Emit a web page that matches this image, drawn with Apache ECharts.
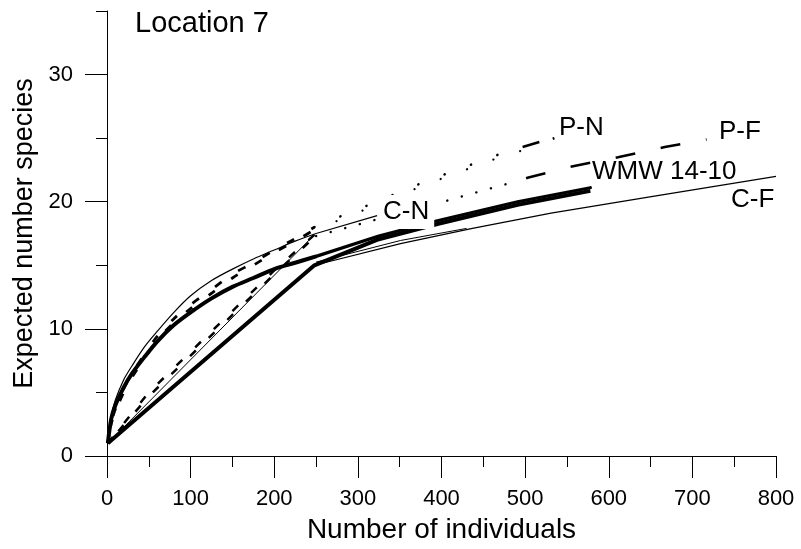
<!DOCTYPE html>
<html><head><meta charset="utf-8">
<script src="https://cdn.jsdelivr.net/npm/echarts@6/dist/echarts.min.js"></script>
<style>html,body{margin:0;padding:0;background:#fff}#c{width:801px;height:549px}</style>
</head><body><div id="c"></div>
<script>
// Tick values
const yMajorTicks = [0,10,20,30];
const yMinorTicks = [5,15,25,35];

// Curves: [number of individuals, expected number of species]
const cnCurve  = [[1,1],[5,3.1],[10,4.4],[20,6.0],[30,7.1],[45,8.6],[60,9.8],[80,11.3],[100,12.6],[125,13.8],[150,14.7],[175,15.5],[200,16.2],[225,16.9],[250,17.5]];
const cnTail   = [[250,17.5],[323,18.9]];
const cnLine   = [[1,1],[248,17.4]];
const pnCurve  = [[1,1],[5,2.6],[10,3.7],[20,5.3],[30,6.5],[45,8.0],[60,9.4],[80,10.8],[100,11.9],[125,13.1],[150,14.3],[175,15.2],[200,16.2],[225,17.1],[248,18.0]];
const pfCurve  = [[1,1],[5,2.5],[10,3.5],[20,5.0],[30,6.2],[45,7.7],[60,9.1],[80,10.5],[100,11.6],[125,12.8],[150,14.0],[175,15.0],[200,16.0],[225,16.9],[248,17.8]];
const pnLine   = [[1,1],[50,5.0],[100,8.2],[150,11.4],[200,14.6],[248,17.4]];
const pfLine   = [[1,1],[50,4.7],[100,7.9],[150,11.1],[200,14.3],[248,17.2]];
const wmwCurve = [[1,1],[5,2.9],[10,4.0],[20,5.4],[30,6.5],[45,7.8],[60,9.0],[80,10.3],[100,11.3],[125,12.4],[150,13.3],[175,14.0],[200,14.7],[225,15.2],[250,15.7]];
const wmwTail  = [[250,15.7],[325,17.3],[395,18.5],[491,20.0],[578,21.1]];
const wmwLine  = [[1,1],[248,15.0],[325,17.05],[395,18.25],[491,19.75],[578,20.85]];
const cfLine   = [[1,1],[248,15.0],[351,16.7],[437,17.9],[531,19.1],[651,20.4],[800,22.0]];
const cfLine2  = [[250,15.25],[351,16.95],[430,17.9]];
const pnTailDot  = [[248,18.0],[281,18.9],[315,19.8],[348,20.7],[381,21.6],[414,22.4],[447,23.2],[480,24.0],[497,24.3]];
const pnTailDot2 = [[250,17.8],[281,18.65],[315,19.55],[348,20.45],[381,21.35],[414,22.15],[447,22.95],[480,23.75],[495,24.0]];
const pnTailDash = [[497,24.3],[517,24.7]];
const pnTailEnd  = [[533,24.95],[535,25.0]];
const pfTailDot  = [[250,17.3],[300,18.2],[350,19.1],[402,20.0],[456,21.0],[492,21.65]];
const pfTailDash = [[492,21.65],[504,21.9],[551,22.7],[611,23.5],[667,24.3],[717,24.9]];

// Labels
const curveLabels = ['C-N','P-N','P-F','WMW 14-10','C-F'];
const panelTitle = 'Location 7';
const xTitle = 'Number of individuals';
const yTitle = 'Expected number species';

const FONT = '"Liberation Sans", Arial, sans-serif';
function ln(data, width, type, opts) {
  return Object.assign({
    type: 'line', data: data, showSymbol: false, symbol: 'none', silent: true,
    lineStyle: { color: '#000', width: width, type: type || 'solid', cap: 'butt' },
    animation: false
  }, opts || {});
}
function dots(data, width, gap, offset) {
  return ln(data, width, 'solid', { lineStyle: { color: '#000', width: width, type: [0.1, gap], dashOffset: offset || 0, cap: 'round' } });
}
const sm = { smooth: 0.3 };

const chart = echarts.init(document.getElementById('c'), null, { renderer: 'canvas' });
chart.setOption({
  backgroundColor: '#fff',
  animation: false,
  grid: { left: 107, right: 25, top: 11, bottom: 91, containLabel: false },
  xAxis: {
    type: 'value', min: 0, max: 800, interval: 100,
    axisLine: { show: true, lineStyle: { color: '#000', width: 1 } },
    axisTick: { show: true, length: 22, lineStyle: { color: '#000', width: 1 } },
    minorTick: { show: true, splitNumber: 2, length: 11, lineStyle: { color: '#000', width: 1 } },
    axisLabel: { margin: 32, fontSize: 22, color: '#000', fontFamily: FONT },
    splitLine: { show: false }, minorSplitLine: { show: false },
    name: xTitle, nameLocation: 'middle', nameGap: 60,
    nameTextStyle: { fontSize: 28, color: '#000', fontFamily: FONT }
  },
  yAxis: [{
    type: 'value', min: 0, max: 35, interval: 10,
    axisLine: { show: true, lineStyle: { color: '#000', width: 1 } },
    axisTick: { show: true, length: 22, customValues: yMajorTicks, lineStyle: { color: '#000', width: 1 } },
    axisLabel: { customValues: yMajorTicks, margin: 34, fontSize: 22, color: '#000', fontFamily: FONT },
    splitLine: { show: false },
    name: yTitle, nameLocation: 'middle', nameGap: 68,
    nameTextStyle: { fontSize: 27, color: '#000', fontFamily: FONT }
  }, {
    type: 'value', min: 0, max: 35, position: 'left', offset: 0,
    axisLine: { show: false },
    axisTick: { show: true, length: 11, customValues: yMinorTicks, lineStyle: { color: '#000', width: 1 } },
    axisLabel: { show: false }, splitLine: { show: false }
  }],
  series: [
    ln(cfLine, 1.2),
    ln(cfLine2, 1),
    ln(cnLine, 1),
    ln(cnCurve, 1.2, 'solid', sm),
    ln(cnTail, 1.2),
    ln(wmwLine, 4),
    ln(wmwCurve, 4, 'solid', sm),
    ln(wmwTail, 3.2, 'solid', { lineStyle: { color: '#000', width: 3.2, cap: 'round' } }),
    ln(pnCurve, 2.8, [8, 20], sm),
    ln(pfCurve, 2.8, [8, 20], Object.assign({}, sm, { lineStyle: { color: '#000', width: 2.8, type: [8, 20], dashOffset: 12 } })),
    ln(pnLine, 2.5, [8, 18]),
    ln(pfLine, 2.5, [8, 18], { lineStyle: { color: '#000', width: 2.5, type: [8, 18], dashOffset: 10 } }),
    dots(pnTailDot, 2.6, 28, 0),
    dots(pnTailDot2, 2.2, 28, 6),
    ln(pnTailDash, 2.6),
    ln(pnTailEnd, 2.6),
    dots(pfTailDot, 2.4, 15, 0),
    ln(pfTailDash, 2.6, [20, 26], { lineStyle: { color: '#000', width: 2.6, type: [20, 26], dashOffset: -8 } })
  ],
  graphic: [
    { type: 'text', x: 135, y: 24, z: 100, style: { text: panelTitle, font: '29px ' + FONT, fill: '#000', verticalAlign: 'middle' } },
    { type: 'text', x: 378, y: 212, z: 100, style: { text: curveLabels[0], font: '26px ' + FONT, fill: '#000', verticalAlign: 'middle', backgroundColor: '#fff', padding: [4, 5, 4, 5] } },
    { type: 'text', x: 559, y: 128, z: 100, style: { text: curveLabels[1], font: '26px ' + FONT, fill: '#000', verticalAlign: 'middle' } },
    { type: 'text', x: 719, y: 132, z: 100, style: { text: curveLabels[2], font: '26px ' + FONT, fill: '#000', verticalAlign: 'middle' } },
    { type: 'text', x: 592, y: 172, z: 90, style: { text: curveLabels[3], font: '26px ' + FONT, fill: '#000', verticalAlign: 'middle' } },
    { type: 'text', x: 731, y: 200, z: 100, style: { text: curveLabels[4], font: '26px ' + FONT, fill: '#000', verticalAlign: 'middle' } }
  ]
});
</script>
</body></html>
